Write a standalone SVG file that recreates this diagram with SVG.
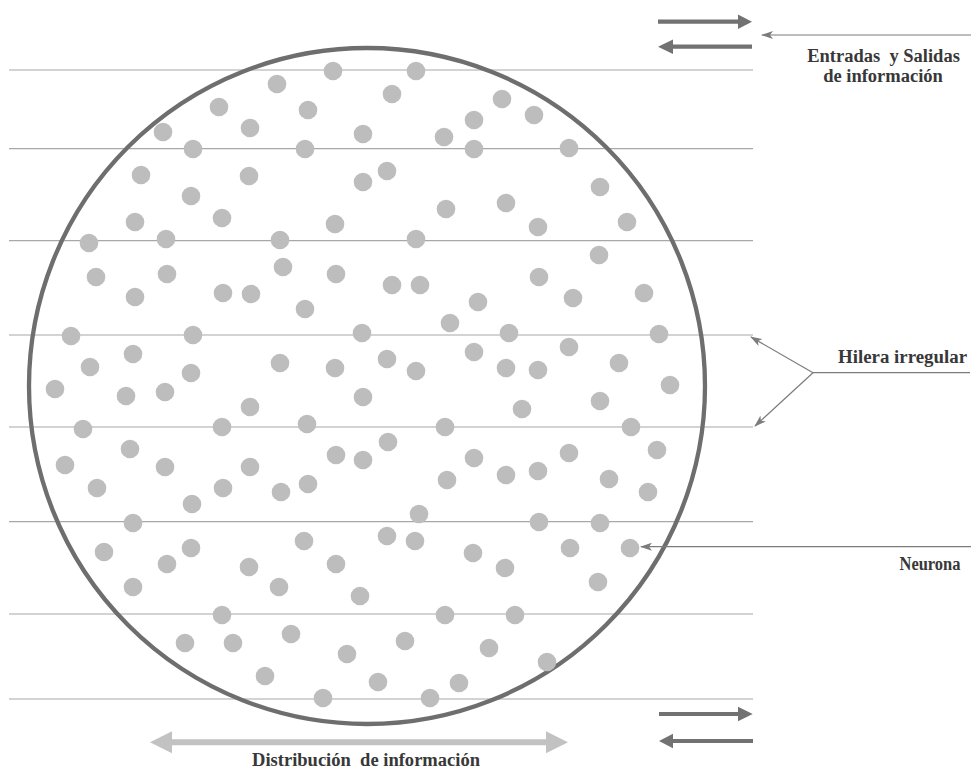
<svg xmlns="http://www.w3.org/2000/svg" xmlns:xlink="http://www.w3.org/1999/xlink" width="971" height="769" viewBox="0 0 971 769">
  <style>
    .row { stroke: #a8a8a8; stroke-width: 1.2; fill: none; }
    .ring { stroke: #6e6e6e; stroke-width: 4.3; fill: none; }
    .neuron { fill: #bdbdbd; }
    .thin { stroke: #7c7c7c; stroke-width: 1.2; fill: none; }
    .flow { fill: #727272; }
    .spread { fill: #c2c2c2; }
    .label { font-family: "Liberation Serif", "Times New Roman", serif; font-weight: bold; font-size: 18.5px; fill: #383838; }
  </style>
  <defs>
    <marker id="tip" viewBox="0 0 12 8" refX="11" refY="4" markerWidth="12" markerHeight="8" markerUnits="userSpaceOnUse" orient="auto">
      <path d="M0,0 L12,4 L0,8 L3,4 z" fill="#7c7c7c"/>
    </marker>
    <circle id="cell" r="9.3"/>
  </defs>

  <rect width="971" height="769" fill="#ffffff"/>

  <!-- horizontal rows -->
  <g id="rows">
    <line class="row" x1="9" y1="70" x2="753" y2="70"/>
    <line class="row" x1="9" y1="148.7" x2="753" y2="148.7"/>
    <line class="row" x1="9" y1="240.7" x2="753" y2="240.7"/>
    <line class="row" x1="9" y1="335" x2="753" y2="335"/>
    <line class="row" x1="9" y1="427" x2="753" y2="427"/>
    <line class="row" x1="9" y1="521.7" x2="753" y2="521.7"/>
    <line class="row" x1="9" y1="614" x2="753" y2="614"/>
    <line class="row" x1="9" y1="699" x2="753" y2="699"/>
  </g>

  <!-- network boundary -->
  <g id="network">
    <circle class="ring" cx="367" cy="386" r="338"/>
  </g>

  <!-- neurons -->
  <g id="neurons" class="neuron">
    <use xlink:href="#cell" x="333" y="71"/><use xlink:href="#cell" x="416" y="71"/>
    <use xlink:href="#cell" x="277" y="84"/><use xlink:href="#cell" x="392" y="94"/>
    <use xlink:href="#cell" x="219" y="107"/><use xlink:href="#cell" x="308" y="110"/>
    <use xlink:href="#cell" x="502" y="99"/><use xlink:href="#cell" x="534" y="115"/>
    <use xlink:href="#cell" x="474" y="120"/><use xlink:href="#cell" x="163" y="132"/>
    <use xlink:href="#cell" x="250" y="128"/><use xlink:href="#cell" x="363" y="134"/>
    <use xlink:href="#cell" x="444" y="137"/><use xlink:href="#cell" x="193" y="149"/>
    <use xlink:href="#cell" x="305" y="149"/><use xlink:href="#cell" x="474" y="149"/>
    <use xlink:href="#cell" x="569" y="148"/><use xlink:href="#cell" x="141" y="175"/>
    <use xlink:href="#cell" x="249" y="176"/><use xlink:href="#cell" x="387" y="171"/>
    <use xlink:href="#cell" x="363" y="182"/><use xlink:href="#cell" x="600" y="187"/>
    <use xlink:href="#cell" x="191" y="196"/><use xlink:href="#cell" x="135" y="222"/>
    <use xlink:href="#cell" x="222" y="218"/><use xlink:href="#cell" x="335" y="224"/>
    <use xlink:href="#cell" x="446" y="209"/><use xlink:href="#cell" x="506" y="203"/>
    <use xlink:href="#cell" x="538" y="227"/><use xlink:href="#cell" x="627" y="222"/>
    <use xlink:href="#cell" x="89" y="243"/><use xlink:href="#cell" x="166" y="239"/>
    <use xlink:href="#cell" x="280" y="240"/><use xlink:href="#cell" x="416" y="239"/>
    <use xlink:href="#cell" x="599" y="255"/><use xlink:href="#cell" x="96" y="277"/>
    <use xlink:href="#cell" x="167" y="274"/><use xlink:href="#cell" x="283" y="267"/>
    <use xlink:href="#cell" x="336" y="274"/><use xlink:href="#cell" x="392" y="285"/>
    <use xlink:href="#cell" x="420" y="285"/><use xlink:href="#cell" x="539" y="277"/>
    <use xlink:href="#cell" x="135" y="297"/><use xlink:href="#cell" x="223" y="293"/>
    <use xlink:href="#cell" x="251" y="294"/><use xlink:href="#cell" x="305" y="309"/>
    <use xlink:href="#cell" x="573" y="298"/><use xlink:href="#cell" x="644" y="293"/>
    <use xlink:href="#cell" x="478" y="302"/><use xlink:href="#cell" x="450" y="323"/>
    <use xlink:href="#cell" x="71" y="336"/><use xlink:href="#cell" x="193" y="335"/>
    <use xlink:href="#cell" x="362" y="333"/><use xlink:href="#cell" x="509" y="333"/>
    <use xlink:href="#cell" x="659" y="334"/><use xlink:href="#cell" x="90" y="367"/>
    <use xlink:href="#cell" x="133" y="354"/><use xlink:href="#cell" x="191" y="373"/>
    <use xlink:href="#cell" x="280" y="363"/><use xlink:href="#cell" x="335" y="368"/>
    <use xlink:href="#cell" x="387" y="359"/><use xlink:href="#cell" x="416" y="371"/>
    <use xlink:href="#cell" x="474" y="352"/><use xlink:href="#cell" x="506" y="368"/>
    <use xlink:href="#cell" x="538" y="370"/><use xlink:href="#cell" x="569" y="347"/>
    <use xlink:href="#cell" x="619" y="363"/><use xlink:href="#cell" x="670" y="385"/>
    <use xlink:href="#cell" x="55" y="389"/><use xlink:href="#cell" x="126" y="396"/>
    <use xlink:href="#cell" x="165" y="392"/><use xlink:href="#cell" x="250" y="407"/>
    <use xlink:href="#cell" x="363" y="397"/><use xlink:href="#cell" x="522" y="409"/>
    <use xlink:href="#cell" x="600" y="401"/><use xlink:href="#cell" x="83" y="429"/>
    <use xlink:href="#cell" x="222" y="427"/><use xlink:href="#cell" x="307" y="424"/>
    <use xlink:href="#cell" x="445" y="427"/><use xlink:href="#cell" x="631" y="427"/>
    <use xlink:href="#cell" x="130" y="449"/><use xlink:href="#cell" x="65" y="465"/>
    <use xlink:href="#cell" x="165" y="467"/><use xlink:href="#cell" x="250" y="467"/>
    <use xlink:href="#cell" x="336" y="455"/><use xlink:href="#cell" x="363" y="460"/>
    <use xlink:href="#cell" x="388" y="442"/><use xlink:href="#cell" x="474" y="458"/>
    <use xlink:href="#cell" x="569" y="453"/><use xlink:href="#cell" x="657" y="450"/>
    <use xlink:href="#cell" x="97" y="488"/><use xlink:href="#cell" x="223" y="488"/>
    <use xlink:href="#cell" x="281" y="492"/><use xlink:href="#cell" x="308" y="484"/>
    <use xlink:href="#cell" x="447" y="480"/><use xlink:href="#cell" x="506" y="475"/>
    <use xlink:href="#cell" x="538" y="471"/><use xlink:href="#cell" x="609" y="479"/>
    <use xlink:href="#cell" x="648" y="492"/><use xlink:href="#cell" x="192" y="504"/>
    <use xlink:href="#cell" x="133" y="523"/><use xlink:href="#cell" x="419" y="514"/>
    <use xlink:href="#cell" x="539" y="522"/><use xlink:href="#cell" x="600" y="523"/>
    <use xlink:href="#cell" x="104" y="552"/><use xlink:href="#cell" x="191" y="548"/>
    <use xlink:href="#cell" x="167" y="564"/><use xlink:href="#cell" x="249" y="567"/>
    <use xlink:href="#cell" x="304" y="541"/><use xlink:href="#cell" x="336" y="564"/>
    <use xlink:href="#cell" x="387" y="536"/><use xlink:href="#cell" x="415" y="541"/>
    <use xlink:href="#cell" x="473" y="553"/><use xlink:href="#cell" x="505" y="568"/>
    <use xlink:href="#cell" x="570" y="548"/><use xlink:href="#cell" x="630" y="548"/>
    <use xlink:href="#cell" x="133" y="587"/><use xlink:href="#cell" x="279" y="587"/>
    <use xlink:href="#cell" x="360" y="596"/><use xlink:href="#cell" x="598" y="582"/>
    <use xlink:href="#cell" x="222" y="615"/><use xlink:href="#cell" x="445" y="615"/>
    <use xlink:href="#cell" x="515" y="615"/><use xlink:href="#cell" x="185" y="643"/>
    <use xlink:href="#cell" x="233" y="643"/><use xlink:href="#cell" x="291" y="634"/>
    <use xlink:href="#cell" x="347" y="654"/><use xlink:href="#cell" x="405" y="641"/>
    <use xlink:href="#cell" x="489" y="648"/><use xlink:href="#cell" x="547" y="662"/>
    <use xlink:href="#cell" x="265" y="676"/><use xlink:href="#cell" x="378" y="682"/>
    <use xlink:href="#cell" x="459" y="683"/><use xlink:href="#cell" x="323" y="698"/>
    <use xlink:href="#cell" x="430" y="698"/>
  </g>

  <!-- connectors -->
  <g id="connectors">
    <!-- input / output flow, top -->
    <polygon class="flow" points="658,19.6 738,19.6 738,14.4 752,21.7 738,29 738,23.8 658,23.8"/>
    <polygon class="flow" points="752,44.6 673,44.6 673,39.4 658,46.7 673,54 673,48.8 752,48.8"/>
    <!-- input / output flow, bottom -->
    <polygon class="flow" points="659,711.9 738,711.9 738,706.8 752.7,714 738,721.2 738,716.1 659,716.1"/>
    <polygon class="flow" points="753,738.9 673,738.9 673,733.8 659,741 673,748.2 673,743.1 753,743.1"/>
    <!-- distribution double arrow -->
    <polygon class="spread" points="150,742.3 172,731.3 172,739.3 546,739.3 546,731.3 568,742.3 546,753.3 546,745.3 172,745.3 172,753.3"/>
    <!-- callouts -->
    <line class="thin" x1="971" y1="35" x2="762" y2="35" marker-end="url(#tip)"/>
    <polyline class="thin" points="970,372.7 813,372.7"/>
    <line class="thin" x1="813" y1="372.7" x2="751" y2="337" marker-end="url(#tip)"/>
    <line class="thin" x1="813" y1="372.7" x2="755" y2="426" marker-end="url(#tip)"/>
    <line class="thin" x1="971" y1="546.7" x2="641" y2="546.7" marker-end="url(#tip)"/>
  </g>

  <!-- labels -->
  <g id="label-io">
    <text class="label" x="883.5" y="62" text-anchor="middle">Entradas&#160; y Salidas</text>
    <text class="label" x="883" y="82" text-anchor="middle">de información</text>
  </g>
  <g id="label-row">
    <text class="label" x="838" y="363" textLength="129" lengthAdjust="spacingAndGlyphs">Hilera irregular</text>
  </g>
  <g id="label-neuron">
    <text class="label" x="899.5" y="569.5" textLength="61" lengthAdjust="spacingAndGlyphs">Neurona</text>
  </g>
  <g id="label-distribution">
    <text class="label" x="252" y="766" textLength="228" lengthAdjust="spacingAndGlyphs">Distribución&#160; de información</text>
  </g>
</svg>
